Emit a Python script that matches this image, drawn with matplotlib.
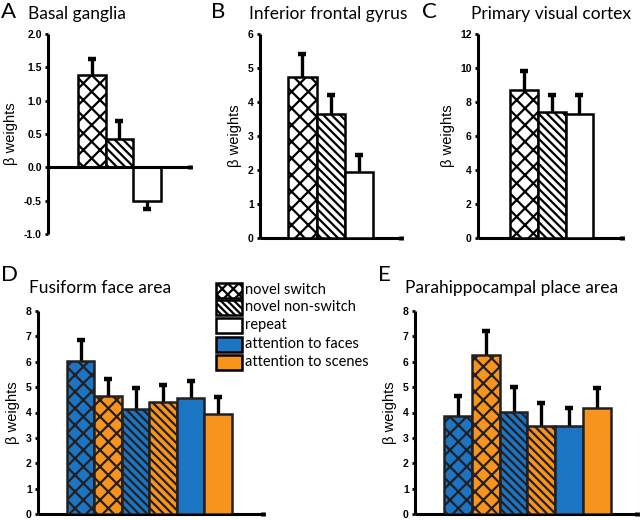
import numpy as np
import matplotlib.pyplot as plt
from matplotlib.patches import Rectangle

plt.rcParams['hatch.linewidth'] = 1.6

# data (mean beta weights, SEM)
conds3 = ['novel switch', 'novel non-switch', 'repeat']
bg_mean = [1.38, 0.43, -0.51]
bg_sem = [0.24, 0.27, 0.12]
ifg_mean = [4.73, 3.65, 1.95]
ifg_sem = [0.67, 0.55, 0.50]
v1_mean = [8.70, 7.40, 7.30]
v1_sem = [1.12, 1.02, 1.12]

# order: switch faces, switch scenes, nonswitch faces, nonswitch scenes, repeat faces, repeat scenes
ffa_mean = [6.04, 4.66, 4.12, 4.40, 4.58, 3.95]
ffa_sem = [0.80, 0.67, 0.84, 0.68, 0.65, 0.65]
ppa_mean = [3.88, 6.28, 4.03, 3.47, 3.48, 4.17]
ppa_sem = [0.76, 0.92, 0.98, 0.90, 0.70, 0.80]

blue = '#1b75c2'
orange = '#f7941d'
hatches6 = ['xx', 'xx', '\\\\\\\\', '\\\\\\\\', '', '']
colors6 = [blue, orange, blue, orange, blue, orange]
hatches3 = ['xx', '\\\\\\\\', '']

leg_labels = ['novel switch', 'novel non-switch', 'repeat',
              'attention to faces', 'attention to scenes']

W, H = 640, 520
fig = plt.figure(figsize=(6.4, 5.2), dpi=100)

tfont = 'Lato'
tick_font = dict(family='Liberation Sans', weight='bold', size=7.5)


def px_axes(x0, y0, x1, y1):
    return fig.add_axes([x0 / W, 1 - y1 / H, (x1 - x0) / W, (y1 - y0) / H])


def panel(ax, means, sems, hatches, colors, edge, left, xmax, ylim, yticks, yfmt):
    n = len(means)
    x = left + 0.5 + np.arange(n)
    ax.bar(x, means, width=1.0, color=colors, edgecolor=edge, linewidth=1.8,
           hatch=hatches, zorder=3)
    for xi, m, s in zip(x, means, sems):
        end = m + s if m >= 0 else m - s
        ax.plot([xi, xi], [m, end], color='k', lw=2.4, zorder=2, solid_capstyle='butt')
        ax.plot([xi], [end], marker='_', ms=6, mew=3.2, color='k', zorder=2)
    ax.set_xlim(0, xmax)
    ax.set_ylim(*ylim)
    ax.set_yticks(yticks)
    ax.set_yticklabels([yfmt % t for t in yticks], fontdict=tick_font)
    for sp in ['top', 'right']:
        ax.spines[sp].set_visible(False)
    for sp in ['left', 'bottom']:
        ax.spines[sp].set_linewidth(2.2)
        ax.spines[sp].set_capstyle('butt')
    ax.set_xticks([xmax])
    ax.set_xticklabels([])
    ax.tick_params(axis='x', length=3, width=3.5, direction='inout')
    ax.tick_params(axis='y', length=2.5, width=2, direction='out', pad=2)
    ax.set_ylabel('β weights', fontsize=10.5, family='Liberation Sans', labelpad=4)
    ax.patch.set_alpha(0)


# A
axA = px_axes(48, 34, 190, 234)
panel(axA, bg_mean, bg_sem, hatches3, 'white', 'k', 1.08, 5.13, (-1, 2),
      [-1.0, -0.5, 0.0, 0.5, 1.0, 1.5, 2.0], '%.1f')
axA.spines['bottom'].set_position(('data', 0))
axA.spines['bottom'].set_zorder(4)

# B
axB = px_axes(260, 34, 401, 238)
panel(axB, ifg_mean, ifg_sem, hatches3, 'white', 'k', 1.0, 4.98, (0, 6),
      list(range(0, 7)), '%d')

# C
axC = px_axes(478, 34, 622, 238)
panel(axC, v1_mean, v1_sem, hatches3, 'white', 'k', 1.16, 5.2, (0, 12),
      list(range(0, 13, 2)), '%d')

# D
axD = px_axes(38, 311, 263, 514)
panel(axD, ffa_mean, ffa_sem, hatches6, colors6, '#231f20', 1.05, 8.18, (0, 8),
      list(range(0, 9)), '%d')

# E
axE = px_axes(415, 311, 637, 514)
panel(axE, ppa_mean, ppa_sem, hatches6, colors6, '#231f20', 1.05, 8.0, (0, 8),
      list(range(0, 9)), '%d')

# panel letters and titles
def ftext(x, y, s, **kw):
    fig.text(x / W, 1 - y / H, s, va='center', ha='left', family=tfont, **kw)

title_size = 12.5
letter_size = 16
ftext(1, 12, 'A', fontsize=letter_size)
ftext(28, 14, 'Basal ganglia', fontsize=title_size)
ftext(211, 12, 'B', fontsize=letter_size)
ftext(249, 14, 'Inferior frontal gyrus', fontsize=title_size)
ftext(422, 12, 'C', fontsize=letter_size)
ftext(471, 14, 'Primary visual cortex', fontsize=title_size)
ftext(1, 275, 'D', fontsize=letter_size)
ftext(29, 288, 'Fusiform face area', fontsize=title_size)
ftext(378, 275, 'E', fontsize=letter_size)
ftext(405, 288, 'Parahippocampal place area', fontsize=title_size)

# legend
legax = fig.add_axes([0, 0, 1, 1])
legax.set_xlim(0, W)
legax.set_ylim(H, 0)
legax.axis('off')
leg_face = ['white', 'white', 'white', blue, orange]
leg_hatch = ['xxx', '\\\\\\\\\\', '', '', '']
row_y = [290, 307, 325, 344, 362]
for lab, fc, hh, yy in zip(leg_labels, leg_face, leg_hatch, row_y):
    legax.add_patch(Rectangle((216, yy - 7.5), 26, 15, facecolor=fc, hatch=hh,
                              edgecolor='k', linewidth=1.8))
    legax.text(245, yy, lab, va='center', ha='left', family=tfont, fontsize=10.5)

fig.savefig('out.png', dpi=100)
